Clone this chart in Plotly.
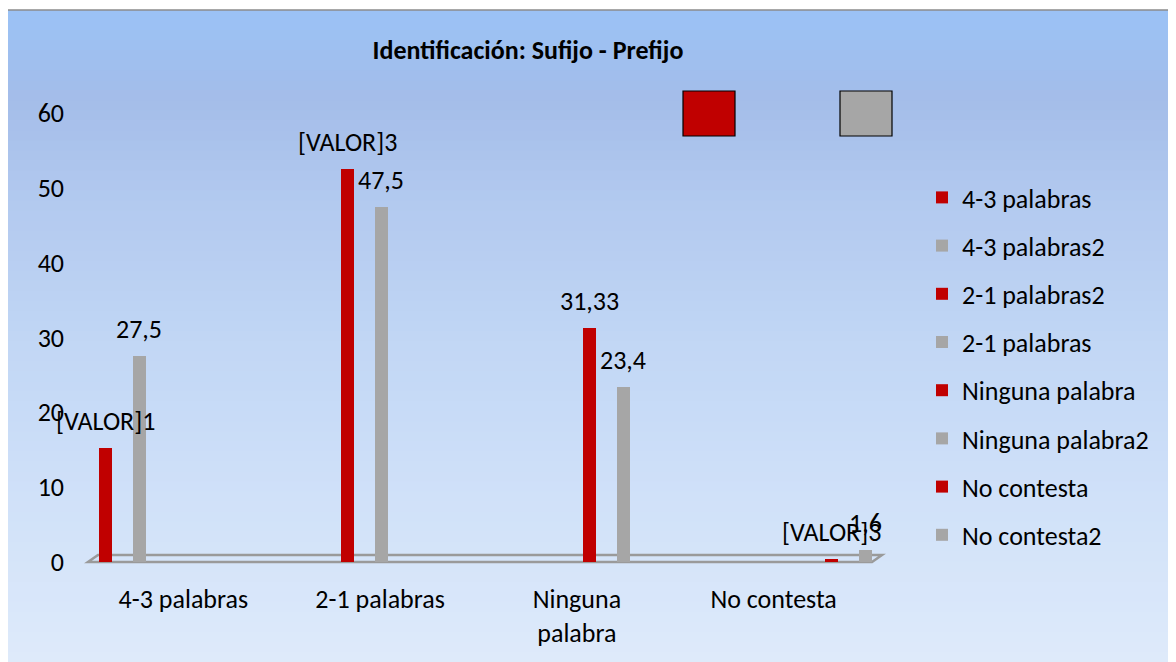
import plotly.graph_objects as go

# ---- data ----
categories = ["4-3 palabras", "2-1 palabras", "Ninguna palabra", "No contesta"]
tick_labels = ["4-3 palabras", "2-1 palabras", "Ninguna<br>palabra", "No contesta"]
series_names = ["4-3 palabras", "4-3 palabras2", "2-1 palabras2", "2-1 palabras",
                "Ninguna palabra", "Ninguna palabra2", "No contesta", "No contesta2"]
series_category = ["4-3 palabras", "4-3 palabras", "2-1 palabras", "2-1 palabras",
                   "Ninguna palabra", "Ninguna palabra", "No contesta", "No contesta"]
series_values = [15.3, 27.5, 52.5, 47.5, 31.33, 23.4, 0.4, 1.6]
series_labels = ["[VALOR]1", "27,5", "[VALOR]3", "47,5", "31,33", "23,4", "[VALOR]3", "1,6"]
y_ticks = [0, 10, 20, 30, 40, 50, 60]

RED = "#C00000"
GREY = "#A6A6A6"
FONT = "Carlito, Calibri, Lato, sans-serif"

# page offset (body margin) and geometry in page pixels
OFF = 8
PW, PH = 1176, 662
W, H = PW - OFF, PH - OFF
L, R, T, B = 85 - OFF, 872 - OFF, 113 - OFF, 562 - OFF
pw, ph = R - L, B - T

def px_x(x):  # page px -> paper
    return (x - OFF - L) / pw

def px_y(y):
    return (B - (y - OFF)) / ph

fig = go.Figure()

bar_w = 0.065
slot = 0.23
for i, (name, cat, val, lab) in enumerate(zip(series_names, series_category, series_values, series_labels)):
    j = categories.index(cat)
    is_red = (i % 2 == 0)
    center = (j - 1.5) * slot + (-0.05 if is_red else 0.12)
    fig.add_trace(go.Bar(
        x=[cat], y=[val], name=name,
        marker=dict(color=RED if is_red else GREY, line=dict(width=0)),
        width=bar_w, offset=center - bar_w / 2,
        legendgroup=name,
    ))
    fig.add_annotation(
        x=j + center, y=val, xref="x", yref="y", text=lab,
        showarrow=False, yanchor="bottom", yshift=9,
        font=dict(family=FONT, size=26, color="black"),
    )

# gradient background bands
stops = [(10, (0x9A, 0xC2, 0xF6)), (100, (0xA4, 0xBD, 0xE9)), (200, (0xB2, 0xC9, 0xEF)),
         (350, (0xC2, 0xD7, 0xF5)), (500, (0xD0, 0xE1, 0xF9)), (662, (0xDE, 0xEA, 0xFA))]

def col_at(py):
    for (y0, c0), (y1, c1) in zip(stops[:-1], stops[1:]):
        if y0 <= py <= y1:
            t = (py - y0) / (y1 - y0)
            return "rgb(%d,%d,%d)" % tuple(round(a + (b - a) * t) for a, b in zip(c0, c1))
    return "rgb(%d,%d,%d)" % stops[-1][1]

shapes = []
n = 65
for k in range(n):
    y0 = 10 + (PH - 10) * k / n
    y1 = 10 + (PH - 10) * (k + 1) / n + 1
    shapes.append(dict(type="rect", xref="paper", yref="paper", layer="below",
                       x0=px_x(4), x1=px_x(PW + 5), y0=px_y(y1), y1=px_y(y0),
                       fillcolor=col_at((y0 + y1) / 2), line=dict(width=0)))
# frame border
shapes.append(dict(type="rect", xref="paper", yref="paper", layer="below",
                   x0=px_x(4), x1=px_x(PW + 5), y0=px_y(PH + 5), y1=px_y(10),
                   fillcolor="rgba(0,0,0,0)", line=dict(color="#8C8C8C", width=1.5)))
# floor
shapes.append(dict(type="path", xref="paper", yref="paper", layer="below",
                   path="M %f %f L %f %f L %f %f L %f %f Z" % (
                       px_x(88), px_y(562), px_x(872), px_y(562),
                       px_x(882), px_y(555), px_x(98), px_y(555)),
                   fillcolor="rgba(0,0,0,0)", line=dict(color="#9A9A9A", width=2.5)))
# stray legend keys at top
for x0, c in [(683, RED), (840, GREY)]:
    shapes.append(dict(type="rect", xref="paper", yref="paper",
                       x0=px_x(x0), x1=px_x(x0 + 52), y0=px_y(136), y1=px_y(91),
                       fillcolor=c, line=dict(color="black", width=1.2)))

fig.update_layout(
    width=W, height=H,
    margin=dict(l=L, r=W - R, t=T, b=H - B),
    paper_bgcolor="white", plot_bgcolor="rgba(0,0,0,0)",
    font=dict(family=FONT, size=26, color="black"),
    title=dict(text="<b>Identificación: Sufijo - Prefijo</b>", x=(528 - OFF) / W, xanchor="center",
               y=1 - (50 - OFF) / H, yanchor="middle", xref="container", yref="container",
               font=dict(family=FONT, size=26, color="black")),
    barmode="overlay",
    bargap=0,
    showlegend=True,
    legend=dict(xref="container", yref="container", x=(922 - OFF) / W, y=1 - (174 - OFF) / H,
                xanchor="left", yanchor="top", bgcolor="rgba(0,0,0,0)",
                font=dict(family=FONT, size=26), tracegroupgap=11.4, traceorder="grouped",
                maxheight=540),
    shapes=shapes,
)
fig.update_xaxes(categoryorder="array", categoryarray=categories, range=[-0.5, 3.5],
                 tickvals=categories, ticktext=tick_labels, showline=False, showgrid=False,
                 ticks="", ticklabelstandoff=19, zeroline=False)
fig.update_yaxes(range=[0, 60], tickvals=y_ticks, showgrid=False, zeroline=False,
                 showline=False, ticks="", ticklabelstandoff=20)

fig.write_html("out.html")
